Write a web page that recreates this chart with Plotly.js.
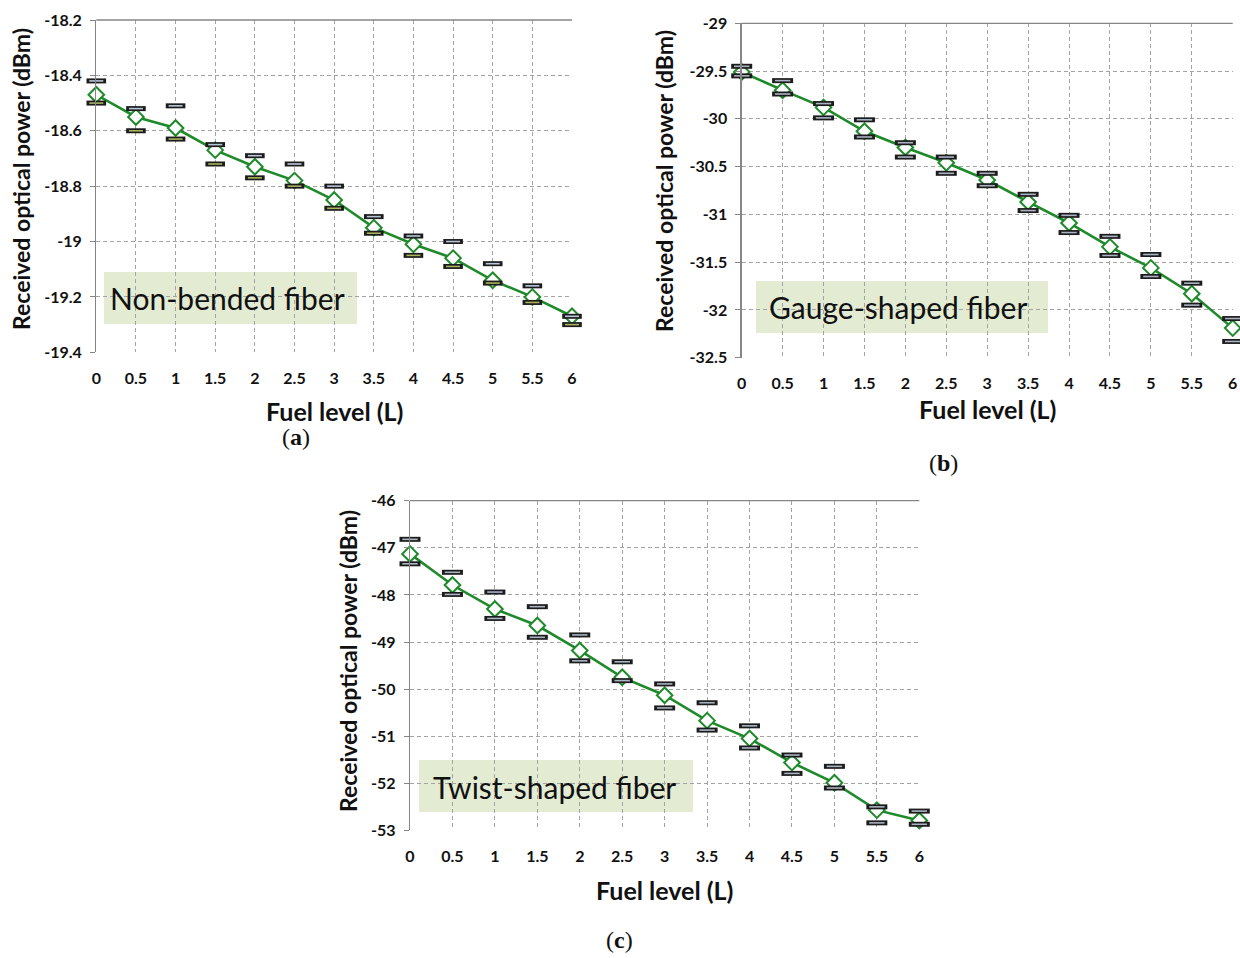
<!DOCTYPE html>
<html>
<head>
<meta charset="utf-8">
<script src="https://cdn.plot.ly/plotly-3.0.1.min.js"></script>
<style>html,body{margin:0;padding:0;background:#fff;}#chart{width:1240px;height:958px;}</style>
</head>
<body>
<div id="chart"></div>
<script>
// ---------- data ----------
const fuel = [0, 0.5, 1, 1.5, 2, 2.5, 3, 3.5, 4, 4.5, 5, 5.5, 6];
const xTickText = ["0", "0.5", "1", "1.5", "2", "2.5", "3", "3.5", "4", "4.5", "5", "5.5", "6"];

const aMean = [-18.47, -18.55, -18.59, -18.67, -18.73, -18.78, -18.85, -18.95, -19.01, -19.06, -19.14, -19.20, -19.27];
const aMax  = [-18.42, -18.52, -18.51, -18.65, -18.69, -18.72, -18.80, -18.91, -18.98, -19.00, -19.08, -19.16, -19.27];
const aMin  = [-18.50, -18.60, -18.63, -18.72, -18.77, -18.80, -18.88, -18.97, -19.05, -19.09, -19.15, -19.22, -19.30];
const aTickVals = [-18.2, -18.4, -18.6, -18.8, -19, -19.2, -19.4];
const aTickText = ["-18.2", "-18.4", "-18.6", "-18.8", "-19", "-19.2", "-19.4"];

const bMean = [-29.51, -29.70, -29.88, -30.13, -30.30, -30.46, -30.64, -30.87, -31.09, -31.34, -31.56, -31.83, -32.19];
const bMax  = [-29.45, -29.60, -29.84, -30.01, -30.25, -30.40, -30.57, -30.79, -31.01, -31.23, -31.42, -31.72, -32.09];
const bMin  = [-29.55, -29.74, -29.99, -30.19, -30.40, -30.57, -30.70, -30.96, -31.19, -31.43, -31.65, -31.95, -32.33];
const bTickVals = [-29, -29.5, -30, -30.5, -31, -31.5, -32, -32.5];
const bTickText = ["-29", "-29.5", "-30", "-30.5", "-31", "-31.5", "-32", "-32.5"];

const cMean = [-47.13, -47.79, -48.30, -48.65, -49.18, -49.75, -50.13, -50.67, -51.05, -51.56, -51.99, -52.57, -52.79];
const cMax  = [-46.82, -47.52, -47.94, -48.25, -48.85, -49.42, -49.89, -50.29, -50.78, -51.40, -51.64, -52.50, -52.59];
const cMin  = [-47.34, -47.99, -48.50, -48.90, -49.40, -49.82, -50.40, -50.87, -51.25, -51.79, -52.10, -52.84, -52.87];
const cTickVals = [-46, -47, -48, -49, -50, -51, -52, -53];
const cTickText = ["-46", "-47", "-48", "-49", "-50", "-51", "-52", "-53"];

const xTitle = "Fuel level (L)";
const yTitle = "Received optical power (dBm)";
const boxLabels = ["Non-bended fiber", "Gauge-shaped fiber", "Twist-shaped fiber"];
const panelLabels = ["a", "b", "c"];

// ---------- styling ----------
const W = 1240, H = 958;
const px = v => v / W;
const py = v => 1 - v / H;
const GREEN = "#1e8a2a";
const FAM = "Lato, 'Open Sans', sans-serif";
const tickFont = {family: FAM, size: 16, color: "#111", weight: 700};

function dashTraces(x, y, xa, ya, fill, size) {
  return [
    {x: x, y: y, xaxis: xa, yaxis: ya, type: "scatter", mode: "markers", hoverinfo: "skip", cliponaxis: false,
     marker: {symbol: "line-ew", size: size, line: {width: 5, color: "#1c1c1c"}}},
    {x: x, y: y, xaxis: xa, yaxis: ya, type: "scatter", mode: "markers", hoverinfo: "skip", cliponaxis: false,
     marker: {symbol: "line-ew", size: size - 4, line: {width: 1.6, color: fill}}}
  ];
}
function meanTrace(x, y, xa, ya) {
  return {x: x, y: y, xaxis: xa, yaxis: ya, type: "scatter", mode: "lines+markers", cliponaxis: false,
    line: {color: GREEN, width: 2.6},
    marker: {symbol: "diamond", size: 12, color: "#ffffff", line: {color: GREEN, width: 2}}};
}

const traces = [].concat(
  [meanTrace(fuel, aMean, "x", "y")],
  dashTraces(fuel, aMax, "x", "y", "#b9c6da", 14),
  dashTraces(fuel, aMin, "x", "y", "#a9b45c", 14),
  [meanTrace(fuel, bMean, "x2", "y2")],
  dashTraces(fuel, bMax, "x2", "y2", "#aab3c2", 15),
  dashTraces(fuel, bMin, "x2", "y2", "#aab3c2", 15),
  [meanTrace(fuel, cMean, "x3", "y3")],
  dashTraces(fuel, cMax, "x3", "y3", "#aab3c2", 15),
  dashTraces(fuel, cMin, "x3", "y3", "#aab3c2", 15)
);

// panel geometry (pixels)
const panels = [
  {l: 96.3, r: 572, t: 20, b: 352.3, yr: [-19.4, -18.2], tv: aTickVals, tt: aTickText,
   yTitleX: 21, yTitleY: 179, xTitleY: 411, lab: [296, 437],
   box: [104, 357, 272, 324], boxText: [227, 298]},
  {l: 741.7, r: 1232.7, t: 23.3, b: 357.7, yr: [-32.5, -29], tv: bTickVals, tt: bTickText,
   yTitleX: 664, yTitleY: 181, xTitleY: 409, lab: [944, 463],
   box: [756, 1048, 281, 333], boxText: [898, 307]},
  {l: 410, r: 919.3, t: 500.7, b: 830.4, yr: [-53, -46], tv: cTickVals, tt: cTickText,
   yTitleX: 348, yTitleY: 661, xTitleY: 890, lab: [619, 940],
   box: [419, 693, 760, 812], boxText: [554, 787]}
];

const layout = {
  width: W, height: H, margin: {l: 0, r: 0, t: 0, b: 0},
  paper_bgcolor: "#fff", plot_bgcolor: "rgba(0,0,0,0)",
  showlegend: false, shapes: [], annotations: []
};

panels.forEach((p, i) => {
  const s = i === 0 ? "" : String(i + 1);
  layout["xaxis" + s] = {
    domain: [px(p.l), px(p.r)], anchor: "y" + s, range: [0, 6],
    tickvals: fuel, ticktext: xTickText, tickfont: tickFont,
    showgrid: true, gridcolor: "#a3a3a3", griddash: "4px,3px", gridwidth: 1,
    zeroline: false, showline: false,
    ticks: "outside", ticklen: 11, tickcolor: "rgba(0,0,0,0)", fixedrange: true
  };
  layout["yaxis" + s] = {
    domain: [py(p.b), py(p.t)], anchor: "x" + s, range: p.yr,
    tickvals: p.tv, ticktext: p.tt, tickfont: tickFont,
    showgrid: true, gridcolor: "#a3a3a3", griddash: "4px,3px", gridwidth: 1,
    zeroline: false, showline: true, linecolor: "#868686", linewidth: 1.3,
    ticks: "outside", ticklen: 5, tickcolor: "#868686", ticklabelstandoff: 5, fixedrange: true
  };
  // top border
  layout.shapes.push({type: "line", xref: "paper", yref: "paper",
    x0: px(p.l), x1: px(p.r), y0: py(p.t), y1: py(p.t), line: {color: "#868686", width: 1.3}});
  // label box
  layout.shapes.push({type: "rect", xref: "paper", yref: "paper", layer: "below",
    x0: px(p.box[0]), x1: px(p.box[1]), y0: py(p.box[3]), y1: py(p.box[2]),
    fillcolor: "#e3ebd3", line: {width: 0}});
  layout.annotations.push({xref: "paper", yref: "paper", x: px(p.boxText[0]), y: py(p.boxText[1]),
    text: boxLabels[i], showarrow: false, xanchor: "center", yanchor: "middle",
    font: {family: FAM, size: 30, color: "#111"}});
  // axis titles
  layout.annotations.push({xref: "paper", yref: "paper", x: px((p.l + p.r) / 2), y: py(p.xTitleY),
    text: xTitle, showarrow: false, xanchor: "center", yanchor: "middle",
    font: {family: FAM, size: 25, color: "#111", weight: 700}});
  layout.annotations.push({xref: "paper", yref: "paper", x: px(p.yTitleX), y: py(p.yTitleY),
    text: yTitle, showarrow: false, textangle: -90, xanchor: "center", yanchor: "middle",
    font: {family: FAM, size: 23, color: "#111", weight: 700}});
  // panel label
  layout.annotations.push({xref: "paper", yref: "paper", x: px(p.lab[0]), y: py(p.lab[1]),
    text: "(<b>" + panelLabels[i] + "</b>)", showarrow: false, xanchor: "center", yanchor: "middle",
    font: {family: "'Liberation Serif', 'Times New Roman', serif", size: 24, color: "#111"}});
});

Plotly.newPlot("chart", traces, layout, {staticPlot: true, displayModeBar: false});
</script>
</body>
</html>
